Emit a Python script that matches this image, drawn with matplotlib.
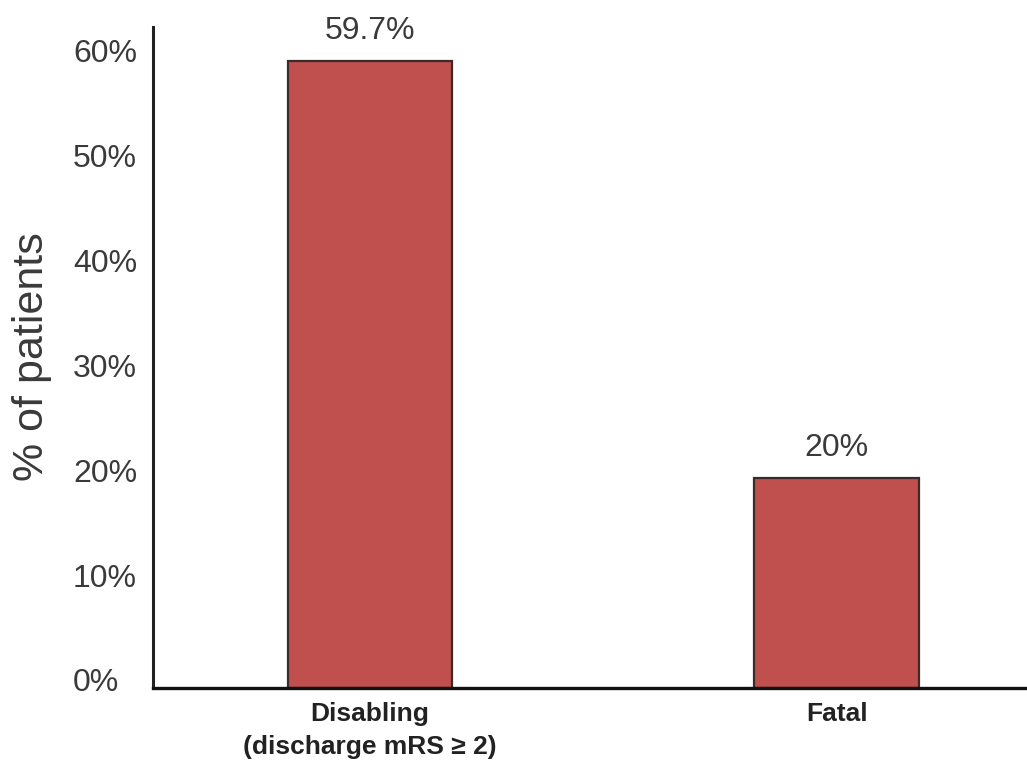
import matplotlib
matplotlib.use("Agg")
import matplotlib.pyplot as plt
import matplotlib.transforms as mtransforms

plt.rcParams['font.family'] = ['Liberation Sans', 'DejaVu Sans']

# Data
categories = ["Disabling\n(discharge mRS \u2265 2)", "Fatal"]
values = [59.7, 20.0]
value_labels = ["59.7%", "20%"]
y_ticks = [0, 10, 20, 30, 40, 50, 60]
y_tick_labels = ["0%", "10%", "20%", "30%", "40%", "50%", "60%"]

bar_color = "#C0504D"
edge_color = "#3b2a2a"
text_gray = "#3a3a3a"

fig = plt.figure(figsize=(10.27, 7.68), dpi=100)
ax = fig.add_axes([0.149, 0.1042, 0.851, 0.861])

x = list(range(len(categories)))
bars = ax.bar(x, values, width=0.352, color=bar_color, edgecolor=edge_color,
              linewidth=1.6, zorder=2)

ax.set_xlim(-0.465, 1.408)
ax.set_ylim(0, 63)

# value labels above bars
for xi, v, lab in zip(x, values, value_labels):
    ax.annotate(lab, (xi, v), xytext=(0, 11), textcoords="offset points",
                ha="center", va="bottom", fontsize=23, color=text_gray)

# spines
for s in ["top", "right"]:
    ax.spines[s].set_visible(False)
ax.spines["left"].set_linewidth(2.2)
ax.spines["bottom"].set_linewidth(2.4)
ax.spines["left"].set_color("#222222")
ax.spines["bottom"].set_color("#111111")
ax.spines["bottom"].set_zorder(3)

# y ticks
ax.set_yticks(y_ticks)
ax.set_yticklabels(y_tick_labels, fontsize=23, color=text_gray)
ax.tick_params(axis="y", length=0, pad=57.6)
offset = mtransforms.ScaledTranslation(0, 8 / 100, fig.dpi_scale_trans)
for lab in ax.get_yticklabels():
    lab.set_horizontalalignment("left")
    lab.set_transform(lab.get_transform() + offset)

# x ticks
ax.set_xticks(x)
ax.set_xticklabels(categories, fontsize=19, fontweight="bold", color="#222222",
                   linespacing=1.5)
ax.tick_params(axis="x", length=0, pad=10)

# y-axis label
ax.set_ylabel("% of patients", fontsize=31, color=text_gray)
ax.yaxis.label.set_verticalalignment("center")
ax.yaxis.set_label_coords(32 / 1027, 0.535, transform=fig.transFigure)

fig.savefig("out.png", dpi=100)
